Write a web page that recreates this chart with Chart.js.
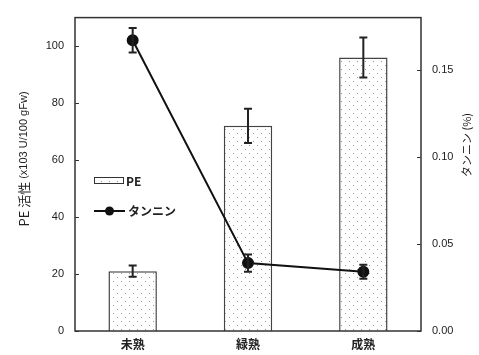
<!DOCTYPE html>
<html>
<head>
<meta charset="utf-8">
<script src="https://cdn.jsdelivr.net/npm/chart.js@4.4.0/dist/chart.umd.min.js"></script>
<style>
  html, body { margin: 0; padding: 0; background: #fff; }
  #wrap { width: 479px; height: 355px; }
</style>
</head>
<body>
<div id="wrap"><canvas id="chart" width="479" height="355"></canvas></div>
<script>
const categories = ['未熟', '緑熟', '成熟'];
const peValues = [21, 72, 96];
const peErrors = [2, 6, 7];
const tanninValues = [0.167, 0.039, 0.034];
const tanninErrors = [0.007, 0.005, 0.004];
const leftTicks = [0, 20, 40, 60, 80, 100];
const rightTicks = [0, 0.05, 0.10, 0.15];

const FONT = "'Noto Sans CJK JP', 'Liberation Sans', sans-serif";
const TICKFONT = "'Liberation Sans', Arial, sans-serif";
const INK = '#333';

// dotted fill for the PE bars
function dotPattern() {
    const c = document.createElement('canvas');
    c.width = 8; c.height = 8;
    const g = c.getContext('2d');
    g.fillStyle = '#fff';
    g.fillRect(0, 0, 8, 8);
    g.fillStyle = '#999';
    g.fillRect(1, 1, 1, 1);
    g.fillRect(5, 5, 1, 1);
    return g.createPattern(c, 'repeat');
}
const pattern = dotPattern();

// frame, inward ticks, error bars, axis titles and the legend
const extras = {
    id: 'extras',
    afterDatasetsDraw(chart) {
        const ctx = chart.ctx;
        const a = chart.chartArea;
        const x = chart.scales.x, yL = chart.scales.yL, yR = chart.scales.yR;
        ctx.save();
        ctx.strokeStyle = INK;
        ctx.lineWidth = 1.5;
        ctx.strokeRect(a.left, a.top, a.right - a.left, a.bottom - a.top);
        ctx.lineWidth = 1;
        leftTicks.forEach(v => {
            const py = Math.round(yL.getPixelForValue(v)) + 0.5;
            ctx.beginPath(); ctx.moveTo(a.left, py); ctx.lineTo(a.left + 4, py); ctx.stroke();
        });
        rightTicks.forEach(v => {
            const py = Math.round(yR.getPixelForValue(v)) + 0.5;
            ctx.beginPath(); ctx.moveTo(a.right, py); ctx.lineTo(a.right - 4, py); ctx.stroke();
        });

        // error bars
        ctx.strokeStyle = '#222';
        ctx.lineWidth = 2;
        const cap = 4;
        function err(px, v, e, scale) {
            const t = scale.getPixelForValue(v + e);
            const b = scale.getPixelForValue(v - e);
            ctx.beginPath();
            ctx.moveTo(px, t); ctx.lineTo(px, b);
            ctx.moveTo(px - cap, t); ctx.lineTo(px + cap, t);
            ctx.moveTo(px - cap, b); ctx.lineTo(px + cap, b);
            ctx.stroke();
        }
        categories.forEach((c, i) => {
            const px = x.getPixelForValue(i);
            err(px, peValues[i], peErrors[i], yL);
            err(px, tanninValues[i], tanninErrors[i], yR);
        });

        // axis titles, both read bottom to top
        ctx.fillStyle = '#222';
        ctx.textBaseline = 'middle';
        ctx.save();
        ctx.translate(24, 159);
        ctx.rotate(-Math.PI / 2);
        const p1 = 'PE 活性 ';
        const p2 = '(x103 U/100 gFw)';
        ctx.font = '13px ' + FONT;
        const w1 = ctx.measureText(p1).width;
        ctx.font = '11px ' + TICKFONT;
        const w2 = ctx.measureText(p2).width;
        const start = -(w1 + w2) / 2;
        ctx.textAlign = 'left';
        ctx.font = '13px ' + FONT;
        ctx.fillText(p1, start, 0);
        ctx.font = '11px ' + TICKFONT;
        ctx.fillText(p2, start + w1, 0);
        ctx.restore();

        ctx.save();
        ctx.translate(467, 145);
        ctx.rotate(-Math.PI / 2);
        ctx.textAlign = 'center';
        ctx.font = '11px ' + FONT;
        ctx.fillText('タンニン (%)', 0, 0);
        ctx.restore();

        // legend
        ctx.fillStyle = pattern;
        ctx.fillRect(94, 177, 30, 7);
        ctx.strokeStyle = INK;
        ctx.lineWidth = 1;
        ctx.strokeRect(94.5, 177.5, 29, 6);
        ctx.fillStyle = '#222';
        ctx.font = 'bold 12px ' + FONT;
        ctx.textAlign = 'left';
        ctx.fillText('PE', 126, 181);
        ctx.strokeStyle = '#111';
        ctx.lineWidth = 2;
        ctx.beginPath(); ctx.moveTo(94, 211); ctx.lineTo(125, 211); ctx.stroke();
        ctx.beginPath(); ctx.arc(109.5, 211, 4.5, 0, Math.PI * 2); ctx.fillStyle = '#111'; ctx.fill();
        ctx.fillStyle = '#222';
        ctx.fillText('タンニン', 128, 211);
        ctx.restore();
    }
};

new Chart(document.getElementById('chart'), {
    data: {
        labels: categories,
        datasets: [
            {
                type: 'line',
                label: 'タンニン',
                data: tanninValues,
                yAxisID: 'yR',
                borderColor: '#111',
                borderWidth: 2,
                pointBackgroundColor: '#111',
                pointBorderColor: '#111',
                pointRadius: 5,
                tension: 0,
                order: 0
            },
            {
                type: 'bar',
                label: 'PE',
                data: peValues,
                yAxisID: 'yL',
                backgroundColor: pattern,
                borderColor: '#444',
                borderWidth: 1.5,
                barPercentage: 0.42,
                categoryPercentage: 1,
                order: 1
            }
        ]
    },
    options: {
        responsive: false,
        animation: false,
        layout: { padding: { top: 12, left: 0, right: 0, bottom: 0 } },
        plugins: {
            legend: { display: false },
            tooltip: { enabled: false }
        },
        scales: {
            x: {
                grid: { display: false, drawTicks: false },
                border: { display: false },
                ticks: { color: '#222', font: { family: FONT, size: 12, weight: 'bold' }, padding: 6 },
                afterFit(s) { s.height = 24; }
            },
            yL: {
                position: 'left',
                min: 0, max: 110,
                afterBuildTicks(s) { s.ticks = leftTicks.map(v => ({ value: v })); },
                grid: { display: false, drawTicks: false },
                border: { display: false },
                ticks: { color: '#222', font: { family: TICKFONT, size: 11 }, padding: 11 },
                afterFit(s) { s.width = 75; }
            },
            yR: {
                position: 'right',
                min: 0, max: 0.18,
                afterBuildTicks(s) { s.ticks = rightTicks.map(v => ({ value: v })); },
                grid: { display: false, drawTicks: false },
                border: { display: false },
                ticks: {
                    color: '#222',
                    font: { family: TICKFONT, size: 11 },
                    padding: 11,
                    callback: v => v.toFixed(2)
                },
                afterFit(s) { s.width = 58; }
            }
        }
    },
    plugins: [extras]
});
</script>
</body>
</html>
